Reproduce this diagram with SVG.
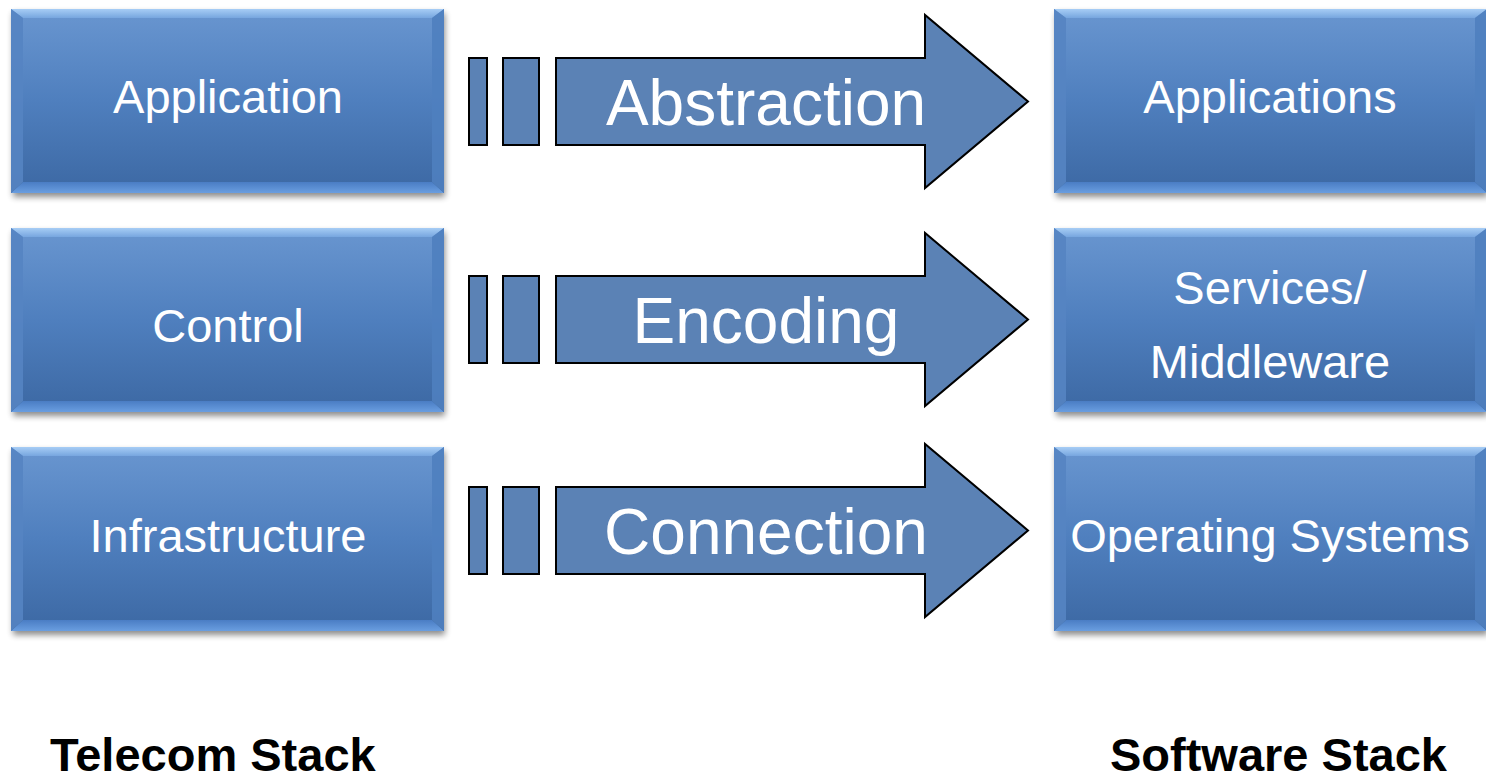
<svg xmlns="http://www.w3.org/2000/svg" width="1486" height="779" viewBox="0 0 1486 779">
<style>
.face{fill:url(#faceG)}
.bt{fill:url(#topG)}
.bb{fill:url(#botG)}
.bl{fill:#5584c2;opacity:0.9}
.br{fill:#4f7fbf;opacity:0.9}
.shadow{fill:#000;opacity:0.45;filter:url(#blur)}
.lbl{font-family:"Liberation Sans",Arial,sans-serif;font-size:47px;fill:#fff;text-anchor:middle}
.alb{font-family:"Liberation Sans",Arial,sans-serif;font-size:64px;fill:#fff;text-anchor:middle}
.arr{fill:#5b82b5;stroke:#000;stroke-width:2;stroke-linejoin:miter}
.title{font-family:"Liberation Sans",Arial,sans-serif;font-size:47px;font-weight:bold;fill:#000}
</style>
<defs>
<linearGradient id="faceG" x1="0" y1="0" x2="0" y2="1">
<stop offset="0" stop-color="#6996d0"/>
<stop offset="0.5" stop-color="#4f7fbe"/>
<stop offset="1" stop-color="#3c68a3"/>
</linearGradient>
<linearGradient id="topG" x1="0" y1="0" x2="0" y2="1">
<stop offset="0" stop-color="#a7cdf5"/>
<stop offset="1" stop-color="#77a6df"/>
</linearGradient>
<linearGradient id="botG" x1="0" y1="0" x2="0" y2="1">
<stop offset="0" stop-color="#4a7dc4"/>
<stop offset="1" stop-color="#6a9ee0"/>
</linearGradient>
<filter id="blur" x="-5%" y="-10%" width="110%" height="130%">
<feGaussianBlur stdDeviation="3"/>
</filter>
</defs>

<g id="node-application">
<rect class="shadow" x="13" y="13" width="432" height="184"/>
<rect class="face" x="11" y="9" width="433" height="184"/>
<polygon class="bt" points="11,9 444,9 432,18 23,18"/>
<polygon class="bb" points="11,193 444,193 432,182 23,182"/>
<polygon class="bl" points="11,9 23,18 23,182 11,193"/>
<polygon class="br" points="444,9 432,18 432,182 444,193"/>
<text class="lbl" x="228" y="113">Application</text>
</g>
<g id="node-control">
<rect class="shadow" x="13" y="232" width="432" height="184"/>
<rect class="face" x="11" y="228" width="433" height="184"/>
<polygon class="bt" points="11,228 444,228 432,237 23,237"/>
<polygon class="bb" points="11,412 444,412 432,401 23,401"/>
<polygon class="bl" points="11,228 23,237 23,401 11,412"/>
<polygon class="br" points="444,228 432,237 432,401 444,412"/>
<text class="lbl" x="228" y="342">Control</text>
</g>
<g id="node-infrastructure">
<rect class="shadow" x="13" y="451" width="432" height="184"/>
<rect class="face" x="11" y="447" width="433" height="184"/>
<polygon class="bt" points="11,447 444,447 432,456 23,456"/>
<polygon class="bb" points="11,631 444,631 432,620 23,620"/>
<polygon class="bl" points="11,447 23,456 23,620 11,631"/>
<polygon class="br" points="444,447 432,456 432,620 444,631"/>
<text class="lbl" x="228" y="552">Infrastructure</text>
</g>

<g id="node-applications">
<rect class="shadow" x="1056" y="13" width="432" height="184"/>
<rect class="face" x="1054" y="9" width="433" height="184"/>
<polygon class="bt" points="1054,9 1487,9 1475,18 1066,18"/>
<polygon class="bb" points="1054,193 1487,193 1475,182 1066,182"/>
<polygon class="bl" points="1054,9 1066,18 1066,182 1054,193"/>
<polygon class="br" points="1487,9 1475,18 1475,182 1487,193"/>
<text class="lbl" x="1270" y="113">Applications</text>
</g>
<g id="node-services">
<rect class="shadow" x="1056" y="232" width="432" height="184"/>
<rect class="face" x="1054" y="228" width="433" height="184"/>
<polygon class="bt" points="1054,228 1487,228 1475,237 1066,237"/>
<polygon class="bb" points="1054,412 1487,412 1475,401 1066,401"/>
<polygon class="bl" points="1054,228 1066,237 1066,401 1054,412"/>
<polygon class="br" points="1487,228 1475,237 1475,401 1487,412"/>
<text class="lbl" x="1270" y="304">Services/</text>
<text class="lbl" x="1270" y="378">Middleware</text>
</g>
<g id="node-os">
<rect class="shadow" x="1056" y="451" width="432" height="184"/>
<rect class="face" x="1054" y="447" width="433" height="184"/>
<polygon class="bt" points="1054,447 1487,447 1475,456 1066,456"/>
<polygon class="bb" points="1054,631 1487,631 1475,620 1066,620"/>
<polygon class="bl" points="1054,447 1066,456 1066,620 1054,631"/>
<polygon class="br" points="1487,447 1475,456 1475,620 1487,631"/>
<text class="lbl" x="1270" y="552">Operating Systems</text>
</g>

<g id="connectors">
<g id="arrow-abstraction">
<rect class="arr" x="469" y="58" width="18" height="87"/>
<rect class="arr" x="503" y="58" width="36" height="87"/>
<path class="arr" d="M556,58 H925 V15 L1028,101.5 L925,188 V145 H556 Z"/>
<text class="alb" x="766" y="125">Abstraction</text>
</g>
<g id="arrow-encoding" transform="translate(0,218)">
<rect class="arr" x="469" y="58" width="18" height="87"/>
<rect class="arr" x="503" y="58" width="36" height="87"/>
<path class="arr" d="M556,58 H925 V15 L1028,101.5 L925,188 V145 H556 Z"/>
<text class="alb" x="766" y="125">Encoding</text>
</g>
<g id="arrow-connection" transform="translate(0,429)">
<rect class="arr" x="469" y="58" width="18" height="87"/>
<rect class="arr" x="503" y="58" width="36" height="87"/>
<path class="arr" d="M556,58 H925 V15 L1028,101.5 L925,188 V145 H556 Z"/>
<text class="alb" x="766" y="125">Connection</text>
</g>
</g>

<text class="title" x="50" y="771">Telecom Stack</text>
<text class="title" x="1110" y="771">Software Stack</text>
</svg>
